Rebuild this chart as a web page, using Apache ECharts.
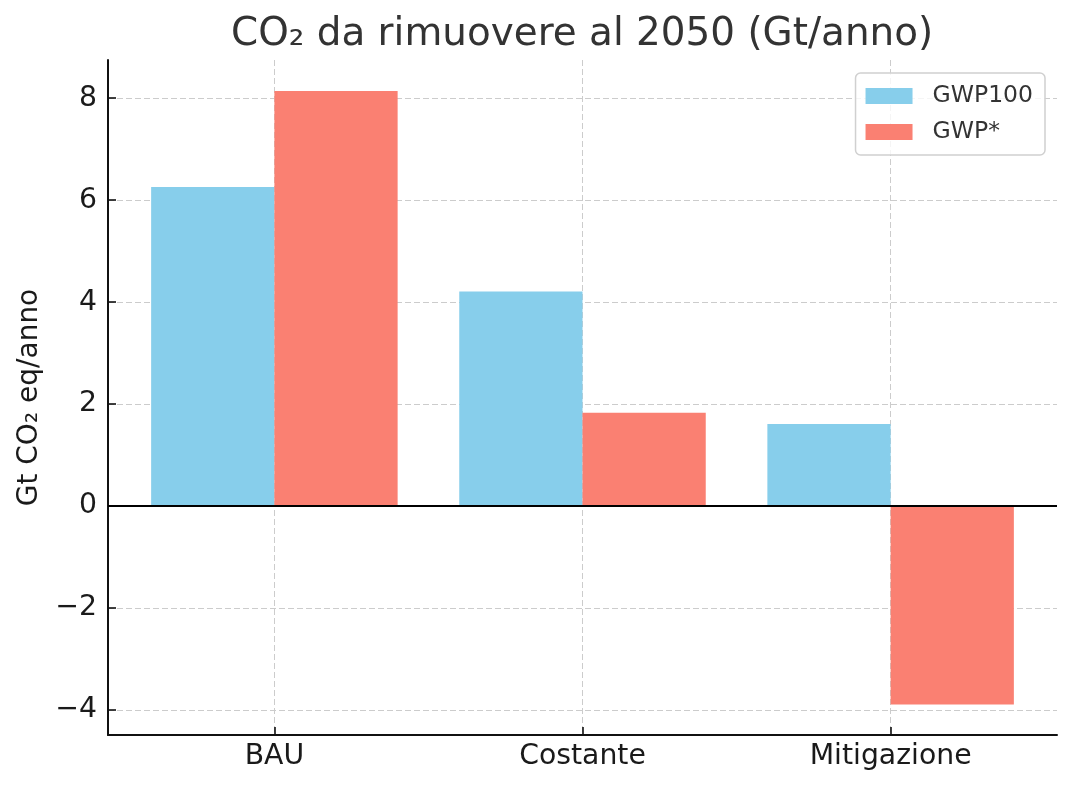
<!DOCTYPE html>
<html>
<head>
<meta charset="utf-8">
<script src="https://cdn.jsdelivr.net/npm/echarts@6/dist/echarts.min.js"></script>
<style>html,body{margin:0;padding:0;background:#fff}#chart{width:1075px;height:790px}</style>
</head>
<body>
<div id="chart"></div>
<script>
const categories = ['BAU', 'Costante', 'Mitigazione'];
const gwp100 = [6.26, 4.21, 1.61];
const gwpStar = [8.14, 1.83, -3.89];
const yTicks = [-4, -2, 0, 2, 4, 6, 8];
const seriesNames = ['GWP100', 'GWP*'];
const titleText = 'CO\u2082 da rimuovere al 2050 (Gt/anno)';
const yAxisName = 'Gt CO\u2082 eq/anno';

const FONT = 'DejaVu Sans';
const xIdx = categories.map((c, i) => i);
const gridDash = [6, 3];

const chart = echarts.init(document.getElementById('chart'));
chart.setOption({
  animation: false,
  backgroundColor: '#ffffff',
  textStyle: { fontFamily: FONT },
  title: {
    text: titleText,
    left: 231, top: 15, padding: 0,
    textStyle: { fontFamily: FONT, fontSize: 38.9, fontWeight: 'normal', color: '#333333' }
  },
  legend: {
    orient: 'vertical',
    right: 30, top: 73,
    padding: [11, 12, 11, 10],
    itemWidth: 47, itemHeight: 16, itemGap: 12,
    borderColor: '#d0d0d0', borderWidth: 1.5, borderRadius: 5,
    backgroundColor: 'rgba(255,255,255,0.8)',
    icon: 'rect',
    textStyle: { fontFamily: FONT, fontSize: 23.5, color: '#333333', padding: [0, 0, 0, 15] },
    data: seriesNames
  },
  grid: { left: 108, right: 18, top: 60, bottom: 55, containLabel: false },
  xAxis: {
    type: 'value',
    min: -0.54, max: 2.54,
    axisLine: { show: true, onZero: false, lineStyle: { color: '#111111', width: 2 } },
    axisTick: { show: true, inside: true, length: 8, customValues: xIdx, lineStyle: { color: '#111111', width: 1.6 } },
    axisLabel: {
      customValues: xIdx, margin: 8,
      fontFamily: FONT, fontSize: 28.3, color: '#1a1a1a',
      formatter: v => categories[Math.round(v)] || ''
    },
    splitLine: { show: true, lineStyle: { color: '#cccccc', width: 1, type: gridDash } }
  },
  yAxis: {
    type: 'value',
    min: -4.49, max: 8.75,
    name: yAxisName, nameLocation: 'middle', nameRotate: 90, nameGap: 64,
    nameTextStyle: { fontFamily: FONT, fontSize: 28, color: '#1a1a1a' },
    axisLine: { show: true, onZero: false, lineStyle: { color: '#111111', width: 2 } },
    axisTick: { show: true, inside: true, length: 8, customValues: yTicks, lineStyle: { color: '#111111', width: 1.6 } },
    axisLabel: {
      customValues: yTicks, margin: 11,
      fontFamily: FONT, fontSize: 28.3, color: '#1a1a1a',
      formatter: v => String(v).replace('-', '\u2212')
    },
    splitLine: { show: true, lineStyle: { color: '#cccccc', width: 1, type: gridDash } }
  },
  series: [
    {
      name: seriesNames[0], type: 'bar',
      barCategoryGap: '20%', barGap: '0%',
      itemStyle: { color: '#87CEEB' },
      data: gwp100.map((v, i) => [xIdx[i], v]),
      markLine: {
        silent: true, symbol: 'none',
        label: { show: false },
        lineStyle: { color: '#000000', width: 1.8, type: 'solid' },
        data: [{ yAxis: 0 }]
      }
    },
    {
      name: seriesNames[1], type: 'bar',
      barCategoryGap: '20%', barGap: '0%',
      itemStyle: { color: '#FA8072' },
      data: gwpStar.map((v, i) => [xIdx[i], v])
    }
  ]
});
</script>
</body>
</html>
